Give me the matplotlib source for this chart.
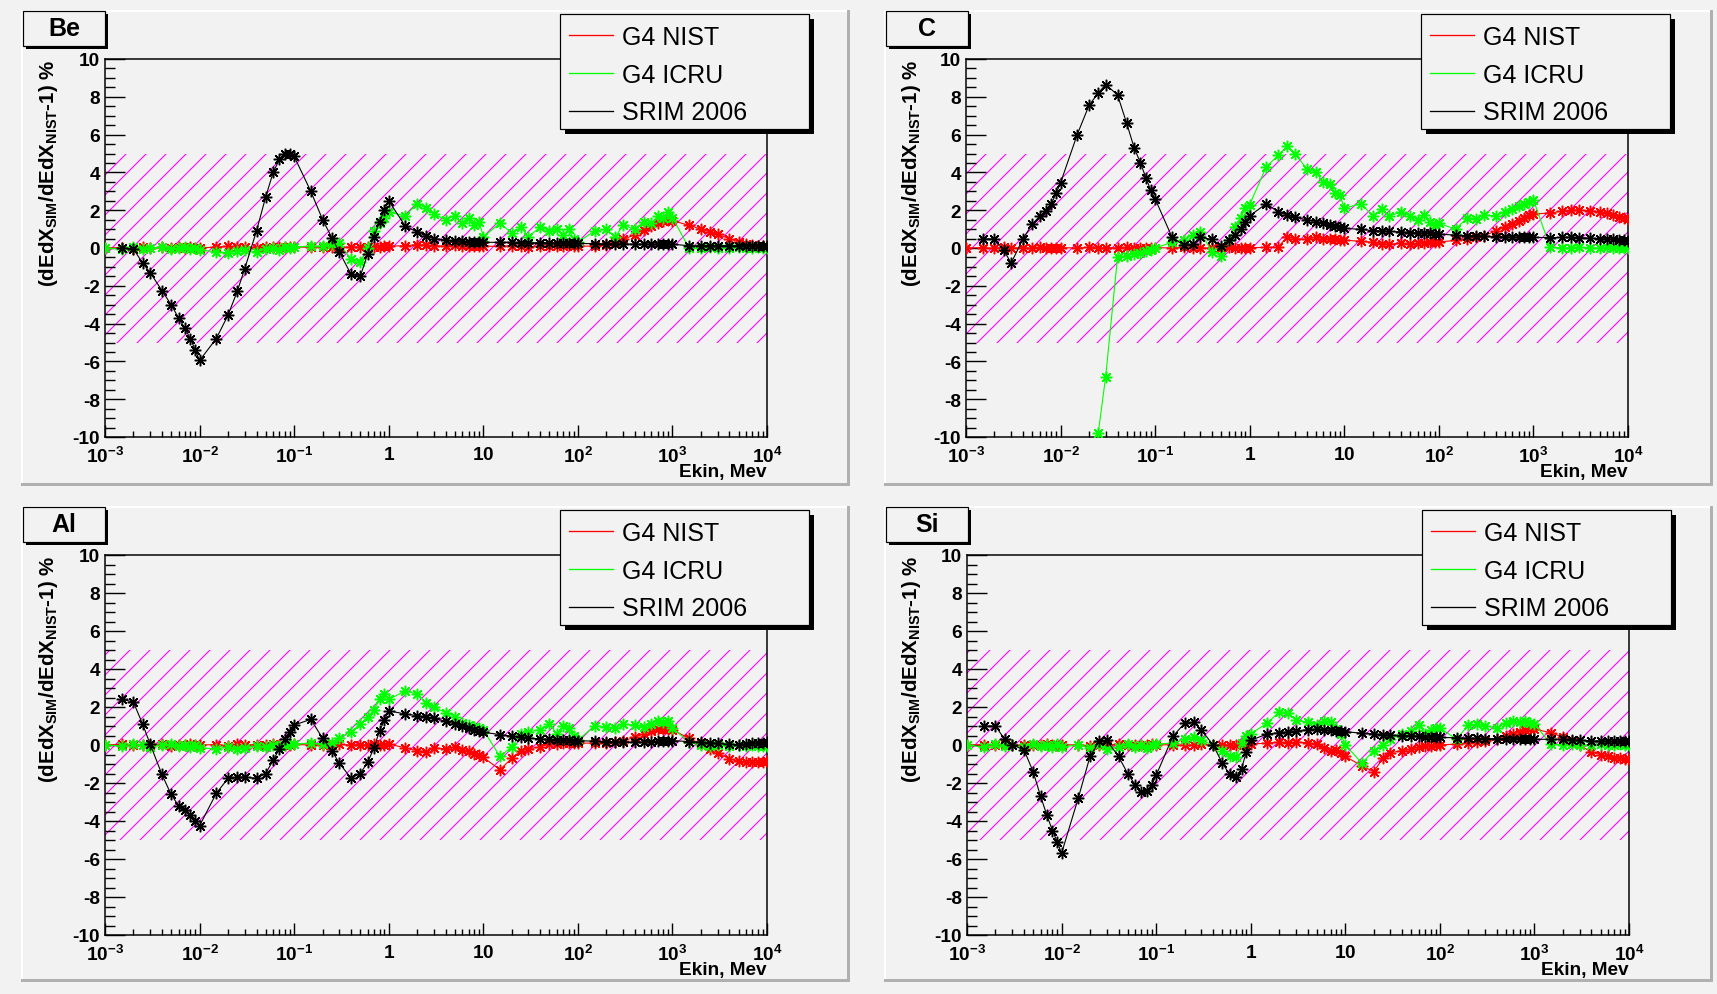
import numpy as np
import matplotlib.pyplot as plt
from matplotlib.patches import Rectangle
from matplotlib.lines import Line2D
from matplotlib.ticker import LogLocator, MultipleLocator, NullFormatter

nan = np.nan

# kinetic energy grid (MeV), shared by all curves
ekin = [
    0.001, 0.0015, 0.002, 0.0025, 0.003, 0.004, 0.005, 0.006, 0.007, 0.008, 0.009,
    0.01, 0.015, 0.02, 0.025, 0.03, 0.04, 0.05, 0.06, 0.07, 0.08, 0.09,
    0.1, 0.15, 0.2, 0.25, 0.3, 0.4, 0.5, 0.6, 0.7, 0.8, 0.9,
    1, 1.5, 2, 2.5, 3, 4, 5, 6, 7, 8, 9,
    10, 15, 20, 25, 30, 40, 50, 60, 70, 80, 90,
    100, 150, 200, 250, 300, 400, 500, 600, 700, 800, 900,
    1000, 1500, 2000, 2500, 3000, 4000, 5000, 6000, 7000, 8000, 9000,
    10000,
]

# --- Be ---
be_nist = [
    0.0, 0.02, -0.03, 0.04, 0.0, 0.03, -0.02, 0.04, 0.0, 0.05, 0.02,
    0.0, 0.05, 0.08, 0.03, 0.06, 0.02, 0.05, 0.07, 0.03, 0.05, 0.04,
    0.05, 0.04, 0.06, 0.05, 0.03, 0.06, 0.04, 0.07, 0.05, 0.06, 0.08,
    0.1, 0.12, 0.18, 0.15, 0.12, 0.1, 0.14, 0.1, 0.08, 0.12, 0.1,
    0.1, 0.08, 0.12, 0.1, 0.06, 0.1, 0.08, 0.12, 0.1, 0.15, 0.12,
    0.1, 0.1, 0.15, 0.3, 0.45, 0.7, 0.95, 1.15, 1.3, 1.45, 1.5,
    1.45, 1.2, 1.0, 0.85, 0.72, 0.5, 0.32, 0.22, 0.15, 0.1, 0.08,
    0.05,
]
be_icru = [
    0.0, -0.05, 0.05, -0.05, 0.0, 0.05, -0.05, 0.0, 0.05, -0.05, 0.0,
    -0.1, -0.2, -0.25, -0.15, -0.1, -0.2, -0.05, 0.0, -0.1, 0.05, 0.0,
    0.05, 0.1, 0.1, 0.2, 0.25, -0.6, -0.75, 0.0, 0.9, 1.3, 1.6,
    1.9, 1.7, 2.35, 2.1, 1.8, 1.5, 1.7, 1.3, 1.6, 1.2, 1.4,
    0.6, 1.3, 0.8, 1.1, 0.6, 1.1, 0.9, 1.0, 0.7, 1.0, 0.5,
    0.3, 0.9, 1.0, 0.6, 1.2, 1.0, 1.4, 1.3, 1.7, 1.6, 1.9,
    1.6, 0.0, 0.0, 0.05, 0.0, 0.0, 0.05, 0.0, 0.0, 0.05, 0.0,
    0.0,
]
be_srim = [
    nan, 0.0, -0.05, -0.8, -1.3, -2.25, -3.0, -3.7, -4.25, -4.8, -5.4,
    -5.95, -4.8, -3.55, -2.3, -1.1, 0.9, 2.7, 4.0, 4.7, 4.95, 5.0,
    4.85, 3.0, 1.5, 0.55, -0.2, -1.4, -1.5, -0.3, 0.6, 1.4, 2.0,
    2.5, 1.15, 0.85, 0.62, 0.5, 0.42, 0.38, 0.36, 0.34, 0.33, 0.32,
    0.3, 0.3, 0.3, 0.28, 0.28, 0.27, 0.26, 0.26, 0.25, 0.25, 0.25,
    0.24, 0.23, 0.22, 0.21, 0.21, 0.2, 0.2, 0.2, 0.2, 0.2, 0.2,
    0.2, 0.12, 0.12, 0.12, 0.12, 0.12, 0.12, 0.12, 0.12, 0.12, 0.12,
    0.12,
]

# --- C ---
c_nist = [
    0.0, 0.02, -0.02, 0.03, 0.0, 0.02, -0.02, 0.03, 0.0, 0.02, 0.0,
    0.02, 0.0, 0.03, -0.02, 0.02, 0.0, 0.03, 0.0, 0.02, -0.02, 0.0,
    0.02, 0.0, 0.03, 0.0, 0.02, -0.02, 0.0, 0.03, 0.0, 0.02, 0.0,
    0.02, 0.03, 0.05, 0.6, 0.5, 0.45, 0.6, 0.5, 0.45, 0.5, 0.4,
    0.42, 0.35, 0.3, 0.22, 0.2, 0.25, 0.2, 0.25, 0.28, 0.3, 0.3,
    0.32, 0.4, 0.5, 0.57, 0.65, 0.9, 1.1, 1.25, 1.45, 1.6, 1.75,
    1.8, 1.85, 1.95, 2.0, 2.0, 1.98, 1.92, 1.85, 1.75, 1.65, 1.6,
    1.53,
]
c_icru = [
    nan, nan, nan, nan, nan, nan, nan, nan, nan, nan, nan,
    nan, nan, -13.5, -9.8, -6.8, -0.5, -0.4, -0.3, -0.25, -0.15, -0.1,
    0.0, 0.3, 0.4, 0.7, 0.85, -0.2, -0.4, 0.4, 1.1, 1.6, 2.1,
    2.3, 4.3, 4.9, 5.4, 5.0, 4.2, 4.0, 3.5, 3.4, 2.9, 2.8,
    2.1, 2.35, 1.7, 2.05, 1.7, 1.9, 1.7, 1.5, 1.75, 1.4, 1.2,
    1.3, 1.0, 1.6, 1.55, 1.75, 1.7, 1.9, 2.05, 2.2, 2.35, 2.45,
    2.55, 0.05, 0.0, 0.0, 0.05, 0.0, 0.0, 0.05, 0.0, 0.0, 0.0,
    0.0,
]
c_srim = [
    nan, 0.48, 0.48, -0.1, -0.8, 0.48, 1.25, 1.68, 1.95, 2.35, 2.9,
    3.45, 6.0, 7.55, 8.2, 8.65, 8.1, 6.6, 5.3, 4.5, 3.7, 3.05,
    2.6, 0.6, 0.15, 0.2, 0.57, 0.45, 0.12, 0.4, 0.7, 1.0, 1.35,
    1.7, 2.35, 1.9, 1.75, 1.62, 1.5, 1.4, 1.3, 1.22, 1.15, 1.1,
    1.05, 0.98, 0.92, 0.9, 0.88, 0.85, 0.82, 0.8, 0.78, 0.77, 0.75,
    0.74, 0.68, 0.66, 0.64, 0.62, 0.6, 0.6, 0.58, 0.58, 0.57, 0.56,
    0.56, 0.55, 0.56, 0.57, 0.55, 0.52, 0.5, 0.48, 0.45, 0.43, 0.41,
    0.39,
]

# --- Al ---
al_nist = [
    0.0, 0.03, -0.02, 0.02, 0.0, 0.03, -0.03, 0.02, 0.0, 0.03, -0.02,
    0.0, 0.02, -0.03, 0.03, 0.0, 0.02, -0.02, 0.03, 0.0, 0.02, 0.0,
    0.03, 0.0, 0.02, -0.02, 0.03, 0.0, 0.02, 0.0, 0.03, 0.02, 0.0,
    0.05, -0.15, -0.3, -0.35, -0.15, -0.2, -0.1, -0.25, -0.3, -0.45, -0.5,
    -0.65, -1.3, -0.7, -0.3, -0.2, -0.1, 0.05, 0.05, 0.08, 0.1, 0.1,
    0.1, 0.1, 0.12, 0.15, 0.22, 0.4, 0.6, 0.75, 0.82, 0.85, 0.85,
    0.8, 0.35, 0.05, -0.2, -0.4, -0.74, -0.85, -0.9, -0.92, -0.9, -0.88,
    -0.83,
]
al_icru = [
    0.0, -0.05, 0.05, 0.0, -0.1, 0.0, 0.05, -0.05, 0.0, -0.1, 0.0,
    -0.15, -0.2, -0.1, -0.2, -0.15, -0.05, -0.1, 0.0, -0.05, 0.0, 0.05,
    0.05, 0.1, 0.05, 0.1, 0.35, 0.7, 1.1, 1.5, 1.85, 2.4, 2.7,
    2.4, 2.85, 2.68, 2.2, 2.0, 1.7, 1.5, 1.15, 1.05, 0.95, 0.9,
    0.8, -0.6, -0.1, 0.58, 0.7, 0.8, 1.1, 0.6, 1.0, 0.9, 0.5,
    0.25, 1.0, 0.95, 0.9, 1.1, 1.05, 0.95, 1.1, 1.28, 1.2, 1.28,
    0.9, 0.15, 0.0, -0.05, 0.0, -0.05, 0.0, -0.05, 0.0, -0.05, -0.05,
    -0.05,
]
al_srim = [
    nan, 2.42, 2.25, 1.1, 0.05, -1.55, -2.6, -3.2, -3.4, -3.7, -4.0,
    -4.25, -2.55, -1.75, -1.7, -1.7, -1.75, -1.5, -0.8, -0.2, 0.3, 0.7,
    1.05, 1.35, 0.35, -0.3, -0.95, -1.75, -1.5, -0.9, -0.15, 0.75, 1.3,
    1.8, 1.63, 1.55, 1.47, 1.4, 1.25, 1.1, 1.0, 0.9, 0.8, 0.72,
    0.67, 0.55, 0.46, 0.41, 0.37, 0.32, 0.29, 0.27, 0.25, 0.24, 0.23,
    0.23, 0.2, 0.18, 0.16, 0.15, 0.14, 0.15, 0.17, 0.19, 0.21, 0.22,
    0.23, 0.18, 0.15, 0.1, 0.08, 0.03, 0.02, 0.05, 0.08, 0.1, 0.12,
    0.14,
]

# --- Si ---
si_nist = [
    0.0, 0.02, -0.02, 0.03, 0.0, -0.02, 0.02, 0.0, 0.03, -0.02, 0.0,
    0.02, 0.0, -0.03, 0.02, 0.0, 0.03, -0.02, 0.0, 0.02, 0.0, 0.03,
    0.0, 0.02, -0.02, 0.0, 0.03, 0.0, 0.02, -0.02, 0.0, 0.03, 0.02,
    0.05, 0.1, 0.15, 0.1, 0.15, 0.12, 0.05, -0.15, -0.3, -0.25, -0.4,
    -0.6, -1.1, -1.4, -0.7, -0.4, -0.3, -0.2, -0.1, -0.05, -0.05, 0.0,
    0.0, 0.05, 0.1, 0.15, 0.2, 0.3, 0.45, 0.6, 0.7, 0.78, 0.82,
    0.83, 0.65, 0.4, 0.2, 0.0, -0.38, -0.5, -0.6, -0.66, -0.7, -0.72,
    -0.75,
]
si_icru = [
    0.0, -0.1, 0.05, -0.05, 0.0, -0.1, 0.05, -0.05, 0.0, -0.1, 0.05,
    -0.1, 0.0, -0.15, 0.05, -0.2, -0.1, 0.05, -0.1, 0.0, -0.15, 0.0,
    0.05, 0.1, 0.3, 0.4, 0.25, 0.0, -0.3, -0.6, -0.65, 0.1, 0.45,
    0.6, 1.15, 1.75, 1.7, 1.3, 1.2, 1.05, 1.25, 1.2, 0.85, 0.56,
    0.0, -0.95, -0.3, 0.0, 0.3, 0.6, 0.75, 1.05, 0.6, 0.8, 0.9,
    0.9, 0.3, 1.05, 1.09, 1.0, 0.92, 1.15, 1.26, 1.2, 1.26, 1.15,
    1.09, 0.05, 0.0, 0.05, 0.0, 0.0, 0.05, 0.0, 0.0, 0.05, 0.0,
    0.0,
]
si_srim = [
    nan, 1.0, 1.0, 0.3, 0.0, -0.25, -1.4, -2.7, -3.7, -4.5, -5.1,
    -5.7, -2.8, -0.6, 0.2, 0.25, -0.6, -1.5, -2.1, -2.45, -2.4, -2.1,
    -1.6, 0.45, 1.15, 1.2, 0.8, 0.0, -0.95, -1.55, -1.7, -1.25, -0.35,
    0.25, 0.58, 0.65, 0.7, 0.75, 0.8, 0.82, 0.8, 0.78, 0.75, 0.72,
    0.7, 0.62, 0.58, 0.55, 0.52, 0.5, 0.48, 0.45, 0.44, 0.42, 0.41,
    0.4, 0.38, 0.36, 0.35, 0.34, 0.33, 0.32, 0.31, 0.3, 0.3, 0.3,
    0.3, 0.3, 0.3, 0.28, 0.25, 0.22, 0.2, 0.2, 0.2, 0.2, 0.2,
    0.2,
]

# +-5% tolerance band
band_e = [1e-3, 1e4]
band_lo = -5
band_hi = 5

legend_labels = ["G4 NIST", "G4 ICRU", "SRIM 2006"]
x_ticks = [1e-3, 1e-2, 1e-1, 1, 10, 1e2, 1e3, 1e4]
x_tick_labels = [r"$10^{-3}$", r"$10^{-2}$", r"$10^{-1}$", r"$1$", r"$10$",
                 r"$10^{2}$", r"$10^{3}$", r"$10^{4}$"]
y_ticks = [-10, -8, -6, -4, -2, 0, 2, 4, 6, 8, 10]
y_tick_labels = ["-10", "-8", "-6", "-4", "-2", "0", "2", "4", "6", "8", "10"]

RED, GREEN, BLACK, MAGENTA = "#ff0000", "#00ff00", "#000000", "#ff00ff"
BG = "#f2f2f2"
STAR = (8, 2, 0)

plt.rcParams["font.family"] = ["Liberation Sans", "DejaVu Sans"]
plt.rcParams["mathtext.fontset"] = "custom"
plt.rcParams["mathtext.rm"] = "Liberation Sans:bold"
plt.rcParams["mathtext.it"] = "Liberation Sans:bold:italic"
plt.rcParams["mathtext.bf"] = "Liberation Sans:bold"
plt.rcParams["mathtext.default"] = "rm"
plt.rcParams["axes.unicode_minus"] = False
plt.rcParams["hatch.linewidth"] = 0.65

W, H, DPI = 1717, 995, 120


def pt(v):
    # pixels -> points
    return v * 72 / DPI


def fx(x):
    return x / W


def fy(y):
    return 1 - y / H


def rect(l, t, r, b):
    return [fx(l), fy(b), (r - l) / W, (b - t) / H]


fig = plt.figure(figsize=(W / DPI, H / DPI), dpi=DPI, facecolor=BG)


def add_box(l, t, r, b, shadow, z):
    fig.add_artist(Rectangle((fx(l + shadow), fy(b + shadow)), (r - l) / W, (b - t) / H,
                             transform=fig.transFigure, fc="black", ec="none", zorder=z))
    fig.add_artist(Rectangle((fx(l), fy(b)), (r - l) / W, (b - t) / H,
                             transform=fig.transFigure, fc=BG, ec="black",
                             lw=pt(1.2), zorder=z + 0.1))


panels = [
    ("Be", be_nist, be_icru, be_srim, (22, 12, 848, 485), (105, 60, 767, 438)),
    ("C", c_nist, c_icru, c_srim, (885, 12, 1711, 485), (966, 60, 1628, 438)),
    ("Al", al_nist, al_icru, al_srim, (22, 508, 848, 981), (105, 556, 767, 936)),
    ("Si", si_nist, si_icru, si_srim, (885, 508, 1711, 981), (967, 556, 1629, 936)),
]

FS = pt(19)

for name, nist, icru, srim, pad, box in panels:
    pl, ptop, pr, pb = pad
    # pad bevel
    fig.add_artist(Line2D([fx(pl), fx(pr)], [fy(ptop), fy(ptop)], transform=fig.transFigure,
                          color="white", lw=pt(2), zorder=-1))
    fig.add_artist(Line2D([fx(pl), fx(pl)], [fy(ptop), fy(pb)], transform=fig.transFigure,
                          color="white", lw=pt(2), zorder=-1))
    fig.add_artist(Line2D([fx(pl), fx(pr)], [fy(pb), fy(pb)], transform=fig.transFigure,
                          color="#b0b0b0", lw=pt(3), zorder=-1))
    fig.add_artist(Line2D([fx(pr), fx(pr)], [fy(ptop), fy(pb)], transform=fig.transFigure,
                          color="#b0b0b0", lw=pt(3), zorder=-1))

    ax = fig.add_axes(rect(*box))
    ax.set_facecolor("none")
    ax.fill_between(band_e, band_lo, band_hi, facecolor="none", edgecolor=MAGENTA,
                    hatch="//", linewidth=0, zorder=1)
    for ys, col in ((nist, RED), (icru, GREEN), (srim, BLACK)):
        ax.plot(ekin, ys, color=col, lw=pt(1.1), marker=STAR, ms=pt(11.5), mew=pt(1.5),
                zorder=3)

    ax.set_xscale("log")
    ax.set_xlim(1e-3, 1e4)
    ax.set_ylim(-10, 10)
    ax.set_xticks(x_ticks, labels=x_tick_labels)
    ax.xaxis.set_minor_locator(LogLocator(base=10, subs=(2, 3, 4, 5, 6, 7, 8, 9), numticks=20))
    ax.xaxis.set_minor_formatter(NullFormatter())
    ax.set_yticks(y_ticks, labels=y_tick_labels)
    ax.yaxis.set_minor_locator(MultipleLocator(0.5))
    ax.tick_params(axis="both", which="both", direction="in", top=False, right=False,
                   width=pt(1.4), labelsize=FS)
    ax.tick_params(axis="y", which="major", length=pt(20), pad=pt(5))
    ax.tick_params(axis="y", which="minor", length=pt(10))
    ax.tick_params(axis="x", which="major", length=pt(12), pad=pt(9))
    ax.tick_params(axis="x", which="minor", length=pt(6))
    for lab in ax.get_yticklabels() + ax.get_xticklabels():
        lab.set_fontweight("bold")
    for sp in ax.spines.values():
        sp.set_linewidth(pt(1.5))

    ax.set_xlabel("Ekin, Mev", loc="right", fontsize=FS, fontweight="bold")
    ax.xaxis.set_label_coords(1.0, -26 / (box[3] - box[1]))
    ax.set_ylabel(r"(dEdX$_{SIM}$/dEdX$_{NIST}$-1) %", loc="top",
                  fontsize=pt(20.5), fontweight="bold")
    ax.yaxis.set_label_coords(-(box[0] - pl - 38) / (box[2] - box[0]), 1.0)

    # panel title box
    add_box(pl + 1, ptop, pl + 83, ptop + 35, 3, 3)
    fig.text(fx(pl + 42), fy(ptop + 17.5), name, ha="center", va="center",
             fontsize=pt(25), fontweight="bold", zorder=4)

    # legend
    ll, lt = box[2] - 207, ptop + 3
    add_box(ll, lt, ll + 249, lt + 115, 5, 5)
    handles = [Line2D([], [], color=c, lw=pt(1.3)) for c in (RED, GREEN, BLACK)]
    leg = fig.legend(handles, legend_labels, loc="upper left",
                     bbox_to_anchor=(fx(ll + 9), fy(lt + 11)), frameon=False,
                     fontsize=pt(25), handlelength=1.75, handletextpad=0.36,
                     labelspacing=0.55, borderpad=0, borderaxespad=0)
    leg.set_zorder(6)

fig.savefig("out.png", dpi=DPI, facecolor=BG)
